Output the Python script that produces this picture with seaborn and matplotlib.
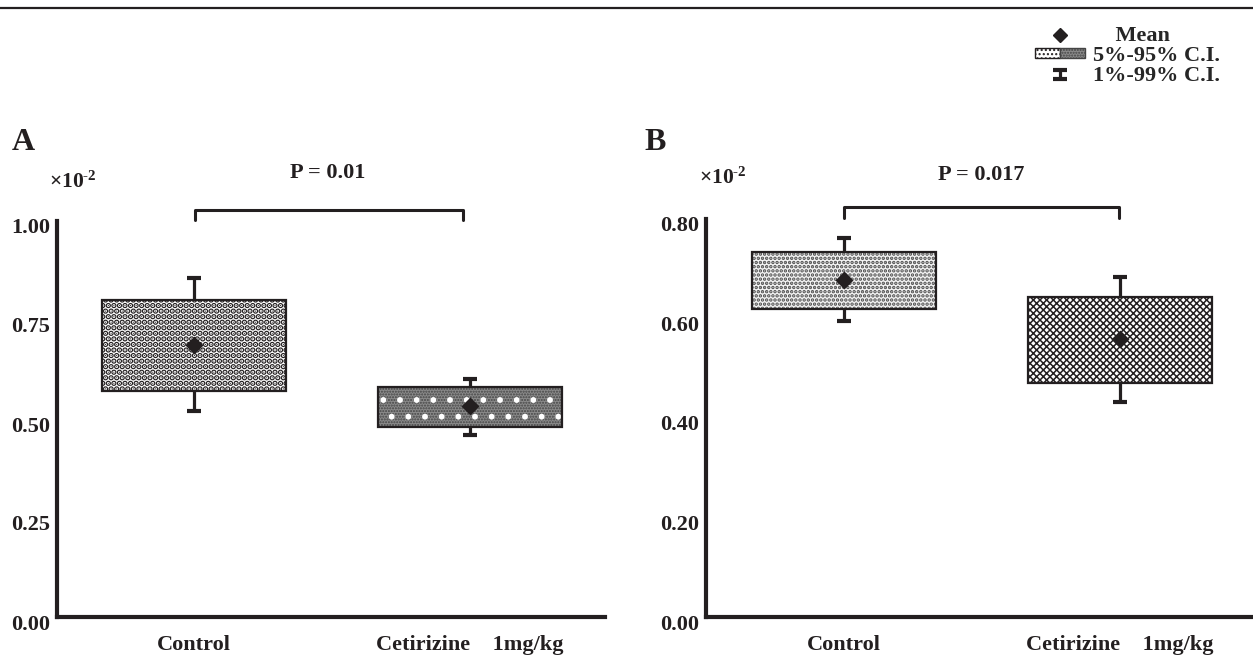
import matplotlib

matplotlib.use("Agg")

import matplotlib.pyplot as plt
import matplotlib.transforms as mtransforms
from matplotlib.container import ErrorbarContainer
from matplotlib.legend_handler import HandlerErrorbar, HandlerTuple
from matplotlib.lines import Line2D
from matplotlib.patches import Patch
import numpy as np
import seaborn as sns

GROUPS = ["Control", "Cetirizine    1mg/kg"]

# panel A (values x10^-2)
A_BOX_LO = [0.570, 0.481]
A_BOX_HI = [0.801, 0.581]
A_WHISK_LO = [0.521, 0.459]
A_WHISK_HI = [0.856, 0.600]
A_MEAN = [0.687, 0.532]
A_TICKS = [0.00, 0.25, 0.50, 0.75, 1.00]
A_P = "P = 0.01"

# panel B
B_BOX_LO = [0.619, 0.470]
B_BOX_HI = [0.734, 0.644]
B_WHISK_LO = [0.594, 0.433]
B_WHISK_HI = [0.762, 0.683]
B_MEAN = [0.677, 0.559]
B_TICKS = [0.00, 0.20, 0.40, 0.60, 0.80]
B_P = "P = 0.017"

INK = "#231f20"
BOX_W = 0.667
FS = 16
W, H = 1253, 658

# face colour + hatch layers (pattern, colour, hatch line width) for each box
A_STYLES = [
    ("white", [("...", INK, 2.9)]),
    ("#8a8a8a", [("......", "#444444", 1.0), (".", "white", 1.8)]),
]
B_STYLES = [
    ("#f2f2f2", [("....", "#4a4a4a", 1.7)]),
    ("white", [("xxxxx", INK, 1.1)]),
]

sns.set_style("white")
plt.rcParams["font.family"] = ["Liberation Serif", "DejaVu Serif"]
plt.rcParams["font.weight"] = "bold"
plt.rcParams["mathtext.fontset"] = "custom"
plt.rcParams["mathtext.rm"] = "Liberation Serif:bold"
plt.rcParams["mathtext.it"] = "Liberation Serif:bold"
plt.rcParams["mathtext.bf"] = "Liberation Serif:bold"


def draw_panel(ax, lo, hi, wlo, whi, mean, styles, ticks, ylim, xlim):
    lo = np.asarray(lo)
    hi = np.asarray(hi)
    pos = np.arange(len(GROUPS))

    eb = ax.errorbar(
        pos,
        (np.asarray(wlo) + np.asarray(whi)) / 2,
        yerr=(np.asarray(whi) - np.asarray(wlo)) / 2,
        fmt="none",
        ecolor=INK,
        elinewidth=2.3,
        capsize=5,
        capthick=3.0,
        zorder=0.5,
    )

    for i, (group, (face, layers)) in enumerate(zip(GROUPS, styles)):
        sns.barplot(
            x=[group], y=[hi[i] - lo[i]], order=GROUPS, bottom=[lo[i]],
            width=BOX_W, color=face, saturation=1, linewidth=0,
            errorbar=None, ax=ax,
        )
        for hatch, hcolor, hlw in layers:
            with plt.rc_context({"hatch.linewidth": hlw}):
                sns.barplot(
                    x=[group], y=[hi[i] - lo[i]], order=GROUPS, bottom=[lo[i]],
                    width=BOX_W, color=hcolor, fill=False, linewidth=0,
                    hatch=hatch, errorbar=None, ax=ax,
                )
        sns.barplot(
            x=[group], y=[hi[i] - lo[i]], order=GROUPS, bottom=[lo[i]],
            width=BOX_W, color=INK, fill=False, linewidth=1.6,
            errorbar=None, ax=ax,
        )

    sns.pointplot(
        x=GROUPS, y=mean, order=GROUPS, markers="D", linestyles="none",
        color=INK, markersize=7.5, errorbar=None, ax=ax, zorder=5,
    )

    ax.set_xlim(*xlim)
    ax.set_ylim(*ylim)
    ax.set_yticks(ticks)
    ax.set_yticklabels([f"{t:.2f}" for t in ticks])
    ax.set_xlabel("")
    ax.set_ylabel("")
    ax.tick_params(axis="y", length=0, pad=5, labelsize=FS, colors=INK)
    ax.tick_params(axis="x", length=0, pad=13, labelsize=FS, colors=INK)
    # y labels sit a little below their tick positions in the original
    shift = mtransforms.ScaledTranslation(0, -5 / 100, ax.figure.dpi_scale_trans)
    for lbl in ax.get_yticklabels():
        lbl.set_transform(lbl.get_transform() + shift)
    for side in ["top", "right"]:
        ax.spines[side].set_visible(False)
    for side in ["left", "bottom"]:
        ax.spines[side].set_linewidth(3.0)
        ax.spines[side].set_color(INK)
        ax.spines[side].set_capstyle("projecting")
    return eb


fig = plt.figure(figsize=(W / 100, H / 100), dpi=100)
ax_a = fig.add_axes([57 / W, 1 - 617 / H, 548 / W, 396 / H])
ax_b = fig.add_axes([706 / W, 1 - 617 / H, 547 / W, 398 / H])

eb = draw_panel(ax_a, A_BOX_LO, A_BOX_HI, A_WHISK_LO, A_WHISK_HI, A_MEAN,
                A_STYLES, A_TICKS, (0, 1.0), (-0.495, 1.49))
draw_panel(ax_b, B_BOX_LO, B_BOX_HI, B_WHISK_LO, B_WHISK_HI, B_MEAN,
           B_STYLES, B_TICKS, (0, 0.8), (-0.5, 1.482))

# significance brackets
ax_a.plot([0.005, 0.005, 0.974, 0.974], [1.002, 1.027, 1.027, 1.002],
          color=INK, lw=2.2, clip_on=False)
ax_a.text(0.487, 1.121, A_P, ha="center", va="center", fontsize=FS, color=INK)
ax_b.plot([0, 0, 0.996, 0.996], [0.803, 0.8245, 0.8245, 0.803],
          color=INK, lw=2.2, clip_on=False)
ax_b.text(0.496, 0.889, B_P, ha="center", va="center", fontsize=FS, color=INK)

# scale notes and panel letters
fig.text(49 / W, 1 - 182 / H, r"$\times10^{\text{-}2}$", fontsize=15.5, va="center", color=INK)
fig.text(699 / W, 1 - 178 / H, r"$\times10^{\text{-}2}$", fontsize=15.5, va="center", color=INK)
fig.text(12 / W, 1 - 143 / H, "A", fontsize=23, va="center", color=INK)
fig.text(644 / W, 1 - 143 / H, "B", fontsize=23, va="center", color=INK)

# rule along the top
fig.add_artist(Line2D([0, 1], [1 - 7.5 / H, 1 - 7.5 / H], transform=fig.transFigure,
                      color=INK, lw=1.6))

# legend
mean_handle = Line2D([], [], marker="D", ls="none", color=INK, markersize=7)
ci_handles = (
    Patch(facecolor="white", edgecolor=INK, hatch="...."),
    Patch(facecolor="#8a8a8a", edgecolor="#444444", hatch="......"),
)
fig.legend(
    [mean_handle, ci_handles, eb],
    ["    Mean", "5%-95% C.I.", "1%-99% C.I."],
    loc="upper left",
    bbox_to_anchor=(1035 / W, 1 - 26 / H),
    frameon=False,
    borderpad=0,
    borderaxespad=0,
    handlelength=2.25,
    handleheight=0.3,
    handletextpad=0.36,
    labelspacing=0.0,
    fontsize=FS,
    handler_map={
        tuple: HandlerTuple(ndivide=None, pad=0),
        ErrorbarContainer: HandlerErrorbar(yerr_size=0.22),
    },
)

fig.savefig("out.png", dpi=100)
